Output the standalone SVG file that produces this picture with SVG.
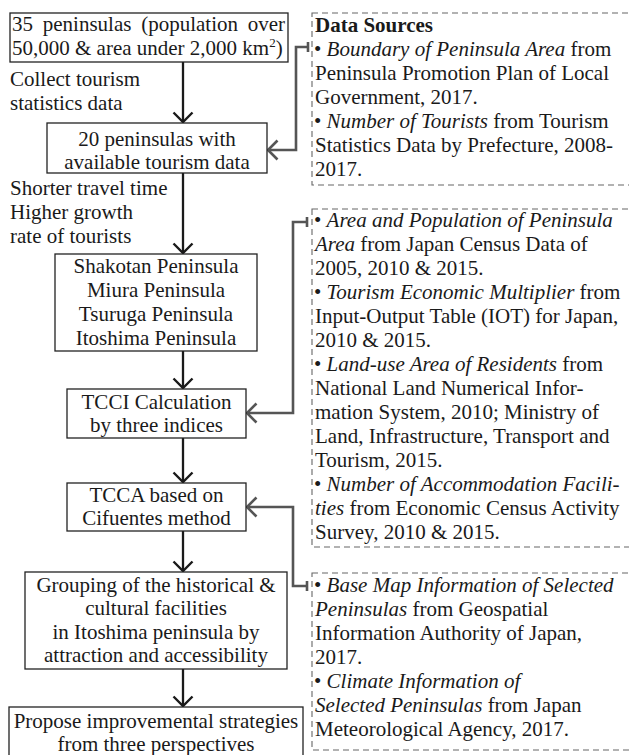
<svg xmlns="http://www.w3.org/2000/svg" width="629" height="755" viewBox="0 0 629 755" font-family="'Liberation Serif', Tinos, 'Times New Roman', 'DejaVu Serif', 'Noto Serif', serif">
<style>
text{font-family:"Liberation Serif",Tinos,"Times New Roman","DejaVu Serif","Noto Serif",serif;font-size:21px;fill:#1a1a1a}
.c{text-anchor:middle}
.i{font-style:italic}
.b{font-weight:bold}
.box{fill:#fff;stroke:#222;stroke-width:1.3}
.ds{fill:none;stroke:#666;stroke-width:1.1;stroke-dasharray:6 4}
.flow{fill:none;stroke:#1a1a1a;stroke-width:2.3}
.link{fill:none;stroke:#555;stroke-width:2.6}
</style>
<defs>
<marker id="ab" markerUnits="userSpaceOnUse" markerWidth="26" markerHeight="26" viewBox="0 0 26 26" refX="13" refY="13" orient="auto">
<path d="M3.5,3.5 L13,13 L3.5,22.5" fill="none" stroke="#1a1a1a" stroke-width="2.4"/>
</marker>
<marker id="ag" markerUnits="userSpaceOnUse" markerWidth="26" markerHeight="26" viewBox="0 0 26 26" refX="13" refY="13" orient="auto">
<path d="M3.5,3.5 L13,13 L3.5,22.5" fill="none" stroke="#555" stroke-width="2.6"/>
</marker>
</defs>

<g id="connectors">
<path class="flow" d="M183,62 V122" marker-end="url(#ab)"/>
<path class="flow" d="M183,173 V253" marker-end="url(#ab)"/>
<path class="flow" d="M183,351 V388" marker-end="url(#ab)"/>
<path class="flow" d="M183,438 V482" marker-end="url(#ab)"/>
<path class="flow" d="M183,531 V571" marker-end="url(#ab)"/>
<path class="flow" d="M183,669 V706" marker-end="url(#ab)"/>
<path class="link" d="M308,47 H296 V150 H268" marker-end="url(#ag)"/>
<path class="link" d="M308,42 V52"/>
<path class="link" d="M307,222 H293 V413 H247" marker-end="url(#ag)"/>
<path class="link" d="M307,217 V227"/>
<path class="link" d="M307,586 H293 V507 H247" marker-end="url(#ag)"/>
<path class="link" d="M307,581 V591"/>
</g>

<g id="n1">
<rect class="box" x="10" y="13" width="278" height="49"/>
<text x="12" y="31" word-spacing="4.5">35 peninsulas (population over</text>
<text x="12" y="55">50,000 &amp; area under 2,000 km<tspan font-size="13" dy="-8">2</tspan><tspan dy="8">)</tspan></text>
</g>

<g id="label1">
<text x="10" y="86">Collect tourism</text>
<text x="10" y="110">statistics data</text>
</g>

<g id="n2">
<rect class="box" x="47" y="123" width="220" height="50"/>
<text class="c" x="157" y="146">20 peninsulas with</text>
<text class="c" x="157" y="169">available tourism data</text>
</g>

<g id="label2">
<text x="10" y="195">Shorter travel time</text>
<text x="10" y="219">Higher growth</text>
<text x="10" y="243">rate of tourists</text>
</g>

<g id="n3">
<rect class="box" x="55" y="254" width="202" height="97"/>
<text class="c" x="156" y="273">Shakotan Peninsula</text>
<text class="c" x="156" y="297">Miura Peninsula</text>
<text class="c" x="156" y="321">Tsuruga Peninsula</text>
<text class="c" x="156" y="345">Itoshima Peninsula</text>
</g>

<g id="n4">
<rect class="box" x="67" y="389" width="179" height="49"/>
<text class="c" x="156.5" y="409">TCCI Calculation</text>
<text class="c" x="156.5" y="432">by three indices</text>
</g>

<g id="n5">
<rect class="box" x="67" y="483" width="179" height="48"/>
<text class="c" x="156.5" y="502">TCCA based on</text>
<text class="c" x="156.5" y="525">Cifuentes method</text>
</g>

<g id="n6">
<rect class="box" x="25" y="572" width="262" height="97"/>
<text class="c" x="156" y="592">Grouping of the historical &amp;</text>
<text class="c" x="156" y="615">cultural facilities</text>
<text class="c" x="156" y="639">in Itoshima peninsula by</text>
<text class="c" x="156" y="662">attraction and accessibility</text>
</g>

<g id="n7">
<rect class="box" x="9" y="707" width="294" height="56"/>
<text class="c" x="156" y="728">Propose improvemental strategies</text>
<text class="c" x="156" y="751">from three perspectives</text>
</g>

<g id="srcA">
<rect class="ds" x="312" y="13" width="330" height="172"/>
<text class="b" x="315" y="32">Data Sources</text>
<text x="314" y="56">• <tspan class="i">Boundary of Peninsula Area</tspan> from</text>
<text x="315" y="80">Peninsula Promotion Plan of Local</text>
<text x="315" y="104">Government, 2017.</text>
<text x="314" y="128">• <tspan class="i">Number of Tourists</tspan> from Tourism</text>
<text x="315" y="152">Statistics Data by Prefecture, 2008-</text>
<text x="315" y="176">2017.</text>
</g>

<g id="srcB">
<rect class="ds" x="312" y="209" width="330" height="338"/>
<text x="314" y="227">• <tspan class="i">Area and Population of Peninsula</tspan></text>
<text x="315" y="251"><tspan class="i">Area</tspan> from Japan Census Data of</text>
<text x="315" y="275">2005, 2010 &amp; 2015.</text>
<text x="314" y="299">• <tspan class="i">Tourism Economic Multiplier</tspan> from</text>
<text x="315" y="323">Input-Output Table (IOT) for Japan,</text>
<text x="315" y="347">2010 &amp; 2015.</text>
<text x="314" y="371">• <tspan class="i">Land-use Area of Residents</tspan> from</text>
<text x="315" y="395">National Land Numerical Infor-</text>
<text x="315" y="419">mation System, 2010; Ministry of</text>
<text x="315" y="443">Land, Infrastructure, Transport and</text>
<text x="315" y="467">Tourism, 2015.</text>
<text x="314" y="491">• <tspan class="i">Number of Accommodation Facili-</tspan></text>
<text x="315" y="515"><tspan class="i">ties</tspan> from Economic Census Activity</text>
<text x="315" y="539">Survey, 2010 &amp; 2015.</text>
</g>

<g id="srcC">
<rect class="ds" x="312" y="573" width="330" height="177"/>
<text x="314" y="592">• <tspan class="i">Base Map Information of Selected</tspan></text>
<text x="315" y="616"><tspan class="i">Peninsulas</tspan> from Geospatial</text>
<text x="315" y="640">Information Authority of Japan,</text>
<text x="315" y="664">2017.</text>
<text x="314" y="688">• <tspan class="i">Climate Information of</tspan></text>
<text x="315" y="712"><tspan class="i">Selected Peninsulas</tspan> from Japan</text>
<text x="315" y="736">Meteorological Agency, 2017.</text>
</g>
</svg>
